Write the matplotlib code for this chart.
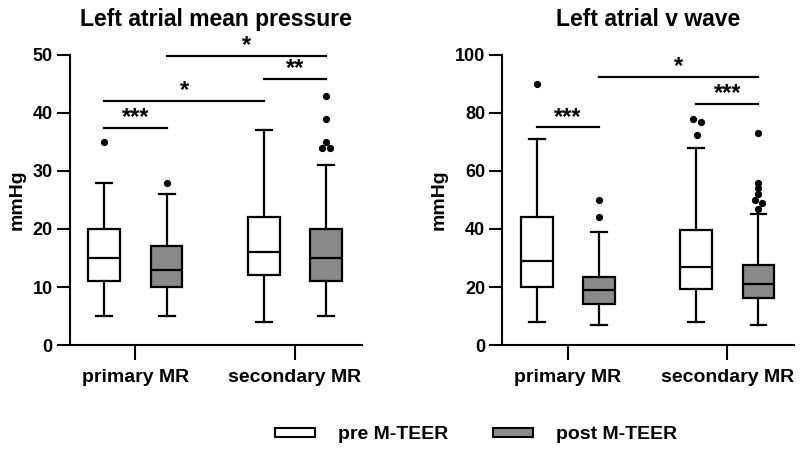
import matplotlib.pyplot as plt
from matplotlib.patches import Patch

plt.rcParams['font.family'] = ['Liberation Sans', 'DejaVu Sans']
plt.rcParams['font.weight'] = 'bold'

groups = ['primary MR', 'secondary MR']
series = ['pre M-TEER', 'post M-TEER']
colors = ['white', '#8a8a8a']

# box summaries, order: primary pre, primary post, secondary pre, secondary post
lamp_lo = [5, 5, 4, 5]
lamp_q1 = [11, 10, 12, 11]
lamp_med = [15, 13, 16, 15]
lamp_q3 = [20, 17, 22, 20]
lamp_hi = [28, 26, 37, 31]
lamp_fliers = [[35], [28], [], [34, 34, 35, 39, 43]]
lamp_sig = [(0, 1, 37.4, '***'), (0, 2, 42.1, '*'), (2, 3, 45.9, '**'), (1, 3, 49.9, '*')]

v_lo = [8, 7, 8, 7]
v_q1 = [20, 14, 19.3, 16.3]
v_med = [29, 19, 27, 21]
v_q3 = [44, 23.5, 39.5, 27.5]
v_hi = [71, 39, 68, 45]
v_fliers = [[90], [44, 50], [72.5, 77, 78], [47, 49, 50, 52, 54, 56, 73]]
v_sig = [(0, 1, 75, '***'), (1, 3, 92.3, '*'), (2, 3, 83.1, '***')]

pos = [-0.195, 0.195, 0.805, 1.195]
# small sideways spread of overlapping outlier dots (GraphPad style)
lamp_spread = [[0], [0], [], [-0.027, 0.027, 0, 0, 0]]
v_spread = [[0], [0, 0], [0.004, 0.031, -0.021], [0, 0.025, -0.025, 0, 0, 0, 0]]


def panel(ax, lo, q1, med, q3, hi, fliers, spread, sig, title, ymax, step):
    stats = []
    for i in range(4):
        stats.append(dict(whislo=lo[i], q1=q1[i], med=med[i], q3=q3[i],
                          whishi=hi[i], fliers=[]))
    lw = 1.6
    b = ax.bxp(stats, positions=pos, widths=0.2, capwidths=0.1, patch_artist=True,
               showfliers=False,
               boxprops=dict(linewidth=lw, edgecolor='black'),
               whiskerprops=dict(linewidth=lw), capprops=dict(linewidth=lw),
               medianprops=dict(linewidth=lw, color='black'))
    for i, box in enumerate(b['boxes']):
        box.set_facecolor(colors[i % 2])
    for i in range(4):
        xs = [pos[i] + d for d in spread[i]]
        ax.plot(xs, fliers[i], 'o', color='black', markersize=4.2, linestyle='none')
    # significance bars
    for a, c, y, s in sig:
        ax.plot([pos[a], pos[c]], [y, y], color='black', lw=1.6, clip_on=False)
        ax.text((pos[a] + pos[c]) / 2, y - ymax * 0.004, s, ha='center', va='bottom',
                fontsize=17, fontweight='bold')
    ax.set_xlim(-0.41, 1.42)
    ax.set_ylim(0, ymax)
    ax.set_yticks(range(0, ymax + 1, step))
    ax.set_xticks([0, 1])
    ax.set_xticklabels(groups, fontsize=14, fontweight='bold')
    ax.tick_params(axis='y', length=9.5, width=1.5, labelsize=13, pad=3)
    ax.tick_params(axis='x', length=11, width=1.5, pad=6)
    for sp in ['top', 'right']:
        ax.spines[sp].set_visible(False)
    for sp in ['left', 'bottom']:
        ax.spines[sp].set_linewidth(1.5)
    ax.set_ylabel('mmHg', fontsize=14, fontweight='bold', labelpad=5)
    ax.set_title(title, fontsize=16.5, fontweight='bold', pad=21)


fig = plt.figure(figsize=(8, 4.49), dpi=100)
ax1 = fig.add_axes([0.0875, 0.2316, 0.365, 0.646])
ax2 = fig.add_axes([0.628, 0.2316, 0.365, 0.646])
panel(ax1, lamp_lo, lamp_q1, lamp_med, lamp_q3, lamp_hi, lamp_fliers, lamp_spread,
      lamp_sig, 'Left atrial mean pressure', 50, 10)
panel(ax2, v_lo, v_q1, v_med, v_q3, v_hi, v_fliers, v_spread, v_sig,
      'Left atrial v wave', 100, 20)

handles = [Patch(facecolor=colors[i], edgecolor='black', linewidth=1.5, label=series[i])
           for i in range(2)]
fig.legend(handles=handles, loc='center', bbox_to_anchor=(0.595, 0.032), ncol=2,
           frameon=False, fontsize=14, handlelength=2.05, handleheight=0.35,
           handletextpad=1.2, columnspacing=2.3)

fig.savefig('out.png', dpi=100)
